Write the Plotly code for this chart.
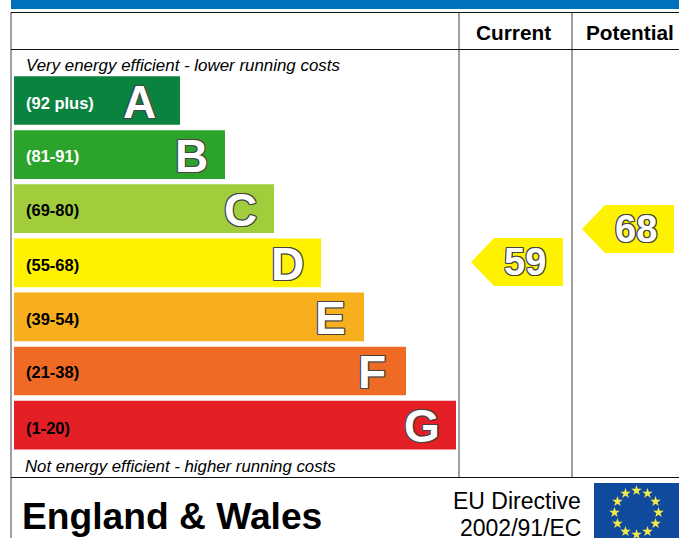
import math
import plotly.graph_objects as go

W, H = 679, 538
bands = ["A", "B", "C", "D", "E", "F", "G"]
ranges = ["(92 plus)", "(81-91)", "(69-80)", "(55-68)", "(39-54)", "(21-38)", "(1-20)"]
bar_lengths = [166, 211, 260, 307, 350, 392, 442]
bar_colors = ["#0a8340", "#2ca42c", "#a1cd3c", "#fff200", "#f7af1d", "#ef6a24", "#e41f26"]
range_colors = ["white", "white", "black", "black", "black", "black", "black"]
ratings = {"Current": 59, "Potential": 68}
top_note = "Very energy efficient - lower running costs"
bottom_note = "Not energy efficient - higher running costs"

FONT = "Liberation Sans, Arial, sans-serif"
LEFT = 14
ROW_0 = 100.5
ROW_STEP = 54.1
OUTLINE = "-1px 0 #444, 1px 0 #444, 0 -1px #444, 0 1px #444, -1px -1px #444, 1px 1px #444, -1px 1px #444, 1px -1px #444"


def rating_y(v):
    return 262 + (59 - v) * 33 / 9


fig = go.Figure()
fig.add_trace(go.Bar(
    y=bands, x=bar_lengths, base=LEFT, orientation="h", width=0.9,
    marker=dict(color=bar_colors, line=dict(width=0)), hoverinfo="skip",
    xaxis="x", yaxis="y",
))


def arrow(col_right, width, rating):
    yc = rating_y(rating)
    half = 24
    left = col_right - width
    return go.Scatter(
        x=[left, left + 23, col_right, col_right, left + 23, left],
        y=[yc, yc - half, yc - half, yc + half, yc + half, yc],
        fill="toself", fillcolor="#fff200", mode="lines", line=dict(width=0),
        hoverinfo="skip", xaxis="x", yaxis="y2",
    )


fig.add_trace(arrow(563, 92, ratings["Current"]))
fig.add_trace(arrow(674, 92, ratings["Potential"]))

# EU flag stars
cx, cy, r = 636.5, 512.5, 22
hours = list(range(12))
fig.add_trace(go.Scatter(
    x=[cx + r * math.sin(h * math.pi / 6) for h in hours],
    y=[cy - r * math.cos(h * math.pi / 6) for h in hours],
    mode="markers", marker=dict(symbol="star", size=8, color="#f4e94c", line=dict(width=0)),
    hoverinfo="skip", xaxis="x", yaxis="y2",
))

shapes = [
    dict(type="rect", x0=11, x1=W, y0=0, y1=9, fillcolor="#0071bc", line_width=0, layer="below"),
    dict(type="rect", x0=594, x1=W, y0=483, y1=H, fillcolor="#0f4a9c", line_width=0, layer="below"),
]
for x, y0, y1 in [(11, 12, H), (459, 12, 477), (572, 12, 477)]:
    shapes.append(dict(type="line", x0=x, x1=x, y0=y0, y1=y1, line=dict(color="#7f7f7f", width=1.5)))
for y, w in [(12.5, 1.2), (49.5, 1), (477.5, 1)]:
    shapes.append(dict(type="line", x0=11, x1=W, y0=y, y1=y, line=dict(color="#111111", width=w)))
for s in shapes:
    s.update(xref="x", yref="y2")


def label(x, y, text, size, color="black", anchor="left", bold=False, italic=False, shadow=None):
    font = dict(family=FONT, size=size, color=color)
    if bold:
        font["weight"] = "bold"
    if italic:
        font["style"] = "italic"
    if shadow:
        font["shadow"] = shadow
    return dict(x=x, y=y, xref="x", yref="y2", text=text, showarrow=False, xanchor=anchor,
                yanchor="middle", font=font)


title = label(211, 0, "Energy Efficiency Rating", 32, "white", "center", bold=True)
title.update(yref="paper", y=1 + 18 / H)

ann = [
    title,
    label(513, 32, "Current", 20.8, anchor="center", bold=True),
    label(629.5, 32, "Potential", 20.8, anchor="center", bold=True),
    label(24, 65, top_note, 16.9, italic=True),
    label(23, 466, bottom_note, 16.8, italic=True),
    label(20, 516, "England &amp; Wales", 37.2, bold=True),
    label(583, 501, "EU Directive", 23, anchor="right"),
    label(583, 527.5, "2002/91/EC", 23, anchor="right"),
]
for i, b in enumerate(bands):
    yc = ROW_0 + ROW_STEP * i
    nudge = -1.5 if b in "BCF" else 0
    ann.append(label(24, yc + 2.5 + nudge, ranges[i], 16.5, range_colors[i], bold=True))
    ann.append(label(LEFT + bar_lengths[i] - (41 if i == 0 else 34), yc + 1, b, 46, "white", "center",
                     bold=True, shadow=OUTLINE))
for (name, v), xc in zip(ratings.items(), [525, 636]):
    ann.append(label(xc, rating_y(v), str(v), 38, "white", "center", bold=True, shadow=OUTLINE))

fig.update_layout(
    width=W, height=H, margin=dict(l=0, r=0, t=0, b=0), showlegend=False,
    paper_bgcolor="white", plot_bgcolor="white", shapes=shapes, annotations=ann,
    xaxis=dict(range=[0, W], visible=False, fixedrange=True),
    yaxis=dict(type="category", categoryorder="array", categoryarray=bands,
               range=[(H - ROW_0) / ROW_STEP, -ROW_0 / ROW_STEP], visible=False, fixedrange=True),
    yaxis2=dict(range=[H, 0], overlaying="y", visible=False, fixedrange=True),
)
fig.write_html("out.html", config={"displayModeBar": False},
               post_script="document.body.style.margin='0';document.body.style.overflow='hidden';")
